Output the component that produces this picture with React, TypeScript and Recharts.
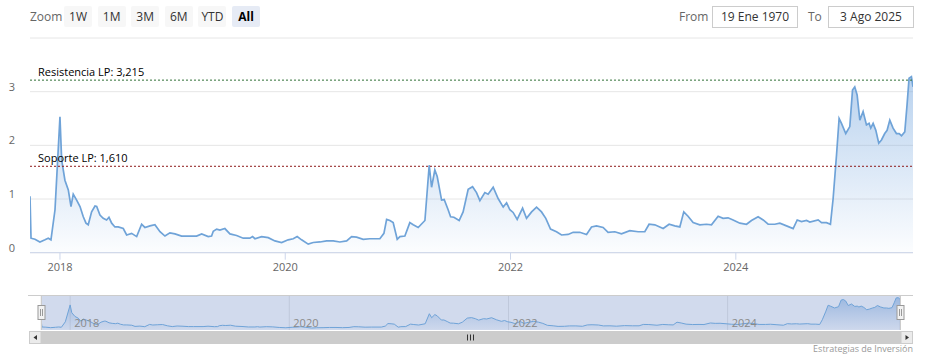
import React from "react";
import {
  AreaChart,
  Area,
  XAxis,
  YAxis,
  CartesianGrid,
  ReferenceLine,
  ReferenceArea,
} from "recharts";

// decimal years
const years = [
  2017.734, 2017.743, 2017.778, 2017.822, 2017.867, 2017.896, 2017.92, 2017.956,
  2018.0, 2018.015, 2018.044, 2018.074, 2018.098, 2018.118, 2018.148, 2018.178,
  2018.207, 2018.231, 2018.251, 2018.281, 2018.311, 2018.326, 2018.355, 2018.384,
  2018.414, 2018.435, 2018.459, 2018.488, 2018.517, 2018.562, 2018.592, 2018.636,
  2018.681, 2018.725, 2018.754, 2018.799, 2018.843, 2018.888, 2018.932, 2018.976,
  2019.021, 2019.08, 2019.124, 2019.213, 2019.258, 2019.316, 2019.346, 2019.361,
  2019.391, 2019.42, 2019.464, 2019.509, 2019.568, 2019.627, 2019.686, 2019.71,
  2019.731, 2019.79, 2019.849, 2019.908, 2019.968, 2020.026, 2020.071, 2020.106,
  2020.145, 2020.204, 2020.248, 2020.308, 2020.367, 2020.426, 2020.485, 2020.545,
  2020.589, 2020.633, 2020.692, 2020.751, 2020.84, 2020.876, 2020.9, 2020.929,
  2020.958, 2020.994, 2021.018, 2021.062, 2021.106, 2021.136, 2021.18, 2021.24,
  2021.278, 2021.299, 2021.328, 2021.349, 2021.388, 2021.411, 2021.446, 2021.468,
  2021.497, 2021.544, 2021.579, 2021.624, 2021.663, 2021.698, 2021.728, 2021.772,
  2021.801, 2021.846, 2021.89, 2021.935, 2021.965, 2021.994, 2022.023, 2022.059,
  2022.107, 2022.142, 2022.187, 2022.231, 2022.275, 2022.313, 2022.355, 2022.408,
  2022.453, 2022.511, 2022.556, 2022.615, 2022.675, 2022.719, 2022.763, 2022.822,
  2022.866, 2022.926, 2022.985, 2023.059, 2023.133, 2023.192, 2023.23, 2023.281,
  2023.355, 2023.408, 2023.458, 2023.503, 2023.538, 2023.576, 2023.621, 2023.68,
  2023.739, 2023.784, 2023.843, 2023.887, 2023.931, 2023.976, 2024.036, 2024.095,
  2024.139, 2024.198, 2024.243, 2024.287, 2024.346, 2024.391, 2024.45, 2024.509,
  2024.545, 2024.583, 2024.628, 2024.657, 2024.731, 2024.761, 2024.805, 2024.84,
  2024.864, 2024.894, 2024.917, 2024.938, 2024.976, 2025.012, 2025.036, 2025.056,
  2025.077, 2025.101, 2025.13, 2025.16, 2025.183, 2025.198, 2025.219, 2025.243,
  2025.269, 2025.293, 2025.322, 2025.343, 2025.367, 2025.396, 2025.426, 2025.45,
  2025.471, 2025.5, 2025.52, 2025.538, 2025.559, 2025.573,
];

const prices = [
  1.05, 0.27, 0.25, 0.2, 0.24, 0.27, 0.24, 0.8,
  2.53, 1.73, 1.35, 1.17, 0.86, 1.09, 0.98, 0.86,
  0.67, 0.55, 0.52, 0.76, 0.87, 0.86, 0.7, 0.64,
  0.61, 0.66, 0.55, 0.48, 0.48, 0.45, 0.33, 0.36,
  0.3, 0.53, 0.47, 0.5, 0.52, 0.39, 0.31, 0.37,
  0.35, 0.31, 0.31, 0.31, 0.35, 0.3, 0.31, 0.4,
  0.44, 0.42, 0.45, 0.35, 0.32, 0.27, 0.27, 0.3,
  0.26, 0.3, 0.28, 0.22, 0.19, 0.24, 0.26, 0.3,
  0.24, 0.16, 0.19, 0.2, 0.22, 0.22, 0.2, 0.22,
  0.3, 0.29, 0.25, 0.26, 0.26, 0.36, 0.62, 0.6,
  0.56, 0.25, 0.3, 0.31, 0.56, 0.52, 0.47, 0.6,
  1.63, 1.22, 1.54, 1.42, 0.98, 0.99, 0.8, 0.67,
  0.66, 0.6, 0.76, 1.18, 1.23, 1.12, 0.97, 1.12,
  1.09, 1.22, 1.01, 0.85, 0.93, 0.8, 0.75, 0.62,
  0.83, 0.64, 0.76, 0.85, 0.76, 0.64, 0.44, 0.39,
  0.33, 0.34, 0.38, 0.38, 0.34, 0.48, 0.5, 0.47,
  0.38, 0.39, 0.35, 0.41, 0.39, 0.39, 0.53, 0.52,
  0.45, 0.53, 0.5, 0.48, 0.76, 0.68, 0.56, 0.52,
  0.53, 0.52, 0.68, 0.64, 0.65, 0.61, 0.55, 0.53,
  0.6, 0.67, 0.61, 0.53, 0.53, 0.55, 0.5, 0.45,
  0.61, 0.58, 0.6, 0.57, 0.61, 0.56, 0.56, 0.53,
  1.01, 1.82, 2.5, 2.41, 2.22, 2.35, 3.03, 3.09,
  2.94, 2.47, 2.63, 2.38, 2.41, 2.32, 2.41, 2.28,
  2.04, 2.1, 2.22, 2.28, 2.47, 2.32, 2.22, 2.22,
  2.18, 2.25, 2.75, 3.25, 3.28, 3.09,
];

const yearTicks = [2018, 2020, 2022, 2024];
const priceTicks = [0, 1, 2, 3, 4];
const navDomain = [-0.04, 3.55];
const resistance = 3.215;
const support = 1.61;
const zoomButtons = ["1W", "1M", "3M", "6M", "YTD", "All"];
const fromDate = "19 Ene 1970";
const toDate = "3 Ago 2025";
const credit = "Estrategias de Inversión";

const data = years.map((t, i) => ({ t, v: prices[i] }));
const xDomain = [years[0], years[years.length - 1]];

const FONT = '"Open Sans", "DejaVu Sans", sans-serif';
const fmt = (n: number) => n.toFixed(3).replace(".", ",");

function PriceTick({ y, payload }: any) {
  if (payload.value === 4) return <g />;
  return (
    <text x={15} y={y - 1} textAnchor="end" fontSize={11} fill="#666" fontFamily={FONT}>
      {payload.value}
    </text>
  );
}

function NavTick({ x, y, payload }: any) {
  return (
    <text x={x + 4} y={y - 3} fontSize={11} fill="#8a8a8a" fontFamily={FONT}>
      {payload.value}
    </text>
  );
}

function plotLineLabel(text: string) {
  return (props: any) => {
    const vb = props.viewBox || {};
    return (
      <text x={vb.x + 8} y={vb.y - 4} fontSize={11} fill="#000" fontFamily={FONT}>
        {text}
      </text>
    );
  };
}

const btnStyle: React.CSSProperties = {
  position: "absolute",
  top: 6,
  width: 28,
  height: 21,
  lineHeight: "21px",
  textAlign: "center",
  fontSize: 12,
  color: "#333",
  background: "#f7f7f7",
  borderRadius: 2,
};

const boxStyle: React.CSSProperties = {
  position: "absolute",
  top: 6,
  width: 84,
  height: 20,
  lineHeight: "20px",
  textAlign: "center",
  fontSize: 12,
  color: "#333",
  border: "1px solid #cccccc",
  background: "#fff",
};

export default function App() {
  return (
    <div style={{ position: "relative", width: 931, height: 361, background: "#fff", fontFamily: FONT, overflow: "hidden" }}>
      <style>{`body{margin:0}`}</style>

      {/* range selector */}
      <div style={{ position: "absolute", left: 30, top: 6, height: 21, lineHeight: "21px", fontSize: 12, color: "#666" }}>
        Zoom
      </div>
      {zoomButtons.map((b, i) => (
        <div
          key={b}
          style={{
            ...btnStyle,
            left: 64 + i * 33.6,
            background: b === "All" ? "#e6ebf5" : "#f7f7f7",
            fontWeight: b === "All" ? 700 : 400,
            color: b === "All" ? "#000" : "#333",
          }}
        >
          {b}
        </div>
      ))}
      <div style={{ position: "absolute", left: 679, top: 6, height: 21, lineHeight: "21px", fontSize: 12, color: "#666" }}>
        From
      </div>
      <div style={{ ...boxStyle, left: 712 }}>{fromDate}</div>
      <div style={{ position: "absolute", left: 808, top: 6, height: 21, lineHeight: "21px", fontSize: 12, color: "#666" }}>
        To
      </div>
      <div style={{ ...boxStyle, left: 828 }}>{toDate}</div>

      {/* main chart */}
      <div style={{ position: "absolute", left: 0, top: 0 }}>
        <AreaChart width={931} height={280} data={data} margin={{ top: 38, right: 18, bottom: 0, left: 0 }}>
          <defs>
            <linearGradient id="mainFill" x1="0" y1="0" x2="0" y2="1">
              <stop offset="0%" stopColor="#7cabe0" stopOpacity={0.9} />
              <stop offset="100%" stopColor="#7cabe0" stopOpacity={0.04} />
            </linearGradient>
          </defs>
          <CartesianGrid vertical={false} stroke="#e6e6e6" />
          <XAxis
            dataKey="t"
            type="number"
            domain={xDomain}
            ticks={yearTicks}
            allowDataOverflow
            height={27.3}
            tickSize={7}
            tickMargin={3}
            stroke="#ccd6eb"
            tick={{ fontSize: 11, fill: "#666", fontFamily: FONT }}
          />
          <YAxis
            type="number"
            domain={[0, 4]}
            ticks={priceTicks}
            width={30}
            axisLine={false}
            tickLine={false}
            tick={(p: any) => <PriceTick {...p} />}
          />
          <ReferenceLine
            y={resistance}
            stroke="#2f6e35"
            strokeDasharray="2 2"
            label={plotLineLabel(`Resistencia LP: ${fmt(resistance)}`)}
          />
          <ReferenceLine
            y={support}
            stroke="#8e1a1a"
            strokeDasharray="2 2"
            label={plotLineLabel(`Soporte LP: ${fmt(support)}`)}
          />
          <Area
            type="linear"
            dataKey="v"
            stroke="#6fa3d8"
            strokeWidth={1.7}
            fill="url(#mainFill)"
            dot={false}
            activeDot={false}
            isAnimationActive={false}
          />
        </AreaChart>
      </div>

      {/* navigator */}
      <div style={{ position: "absolute", left: 0, top: 295 }}>
        <AreaChart width={931} height={49} data={data} margin={{ top: 0, right: 31, bottom: 0, left: 41 }}>
          <defs>
            <linearGradient id="navFill" x1="0" y1="0" x2="0" y2="1">
              <stop offset="0%" stopColor="#5c8fd0" stopOpacity={0.75} />
              <stop offset="100%" stopColor="#5c8fd0" stopOpacity={0.05} />
            </linearGradient>
          </defs>
          <ReferenceArea
            x1={xDomain[0]}
            x2={xDomain[1]}
            y1={navDomain[0]}
            y2={navDomain[1]}
            fill="rgb(102,133,194)"
            fillOpacity={0.3}
            stroke="none"
          />
          <CartesianGrid horizontal={false} stroke="#e6e6e6" />
          <XAxis
            dataKey="t"
            type="number"
            domain={xDomain}
            ticks={yearTicks}
            allowDataOverflow
            height={14}
            tickSize={0}
            tickMargin={0}
            axisLine={false}
            tickLine={false}
            interval={0}
            tick={(p: any) => <NavTick {...p} />}
          />
          <YAxis hide type="number" domain={navDomain} allowDataOverflow />
          <Area
            type="linear"
            dataKey="v"
            stroke="#6fa3d8"
            strokeWidth={1}
            fill="url(#navFill)"
            dot={false}
            activeDot={false}
            isAnimationActive={false}
          />
        </AreaChart>
      </div>

      {/* navigator outline, handles, scrollbar, credit */}
      <svg width={931} height={361} style={{ position: "absolute", left: 0, top: 0, pointerEvents: "none" }}>
        <path d="M28 295.5 H913 M41.5 295.5 V330 M900.5 295.5 V330" stroke="#cccccc" fill="none" />
        {[41.5, 900.5].map((cx) => (
          <g key={cx}>
            <rect x={cx - 3.5} y={305.5} width={7} height={14} fill="#f2f2f2" stroke="#999" />
            <path d={`M${cx - 1} 309 V316 M${cx + 1} 309 V316`} stroke="#999" />
          </g>
        ))}
        <rect x={29} y={331} width={884} height={13} fill="#f2f2f2" />
        <rect x={41} y={331} width={860} height={13} fill="#cccccc" />
        <rect x={29.5} y={331.5} width={11.5} height={12} fill="#ebebeb" stroke="#cccccc" />
        <rect x={901} y={331.5} width={11.5} height={12} fill="#ebebeb" stroke="#cccccc" />
        <path d="M37 335 L33.5 337.5 L37 340 Z" fill="#333" />
        <path d="M905.5 335 L909 337.5 L905.5 340 Z" fill="#333" />
        <path d="M467.5 334.5 V340.5 M470.5 334.5 V340.5 M473.5 334.5 V340.5" stroke="#333" />
        <text x={913} y={352} textAnchor="end" fontSize={9} fill="#999" fontFamily={FONT}>
          {credit}
        </text>
      </svg>
    </div>
  );
}
